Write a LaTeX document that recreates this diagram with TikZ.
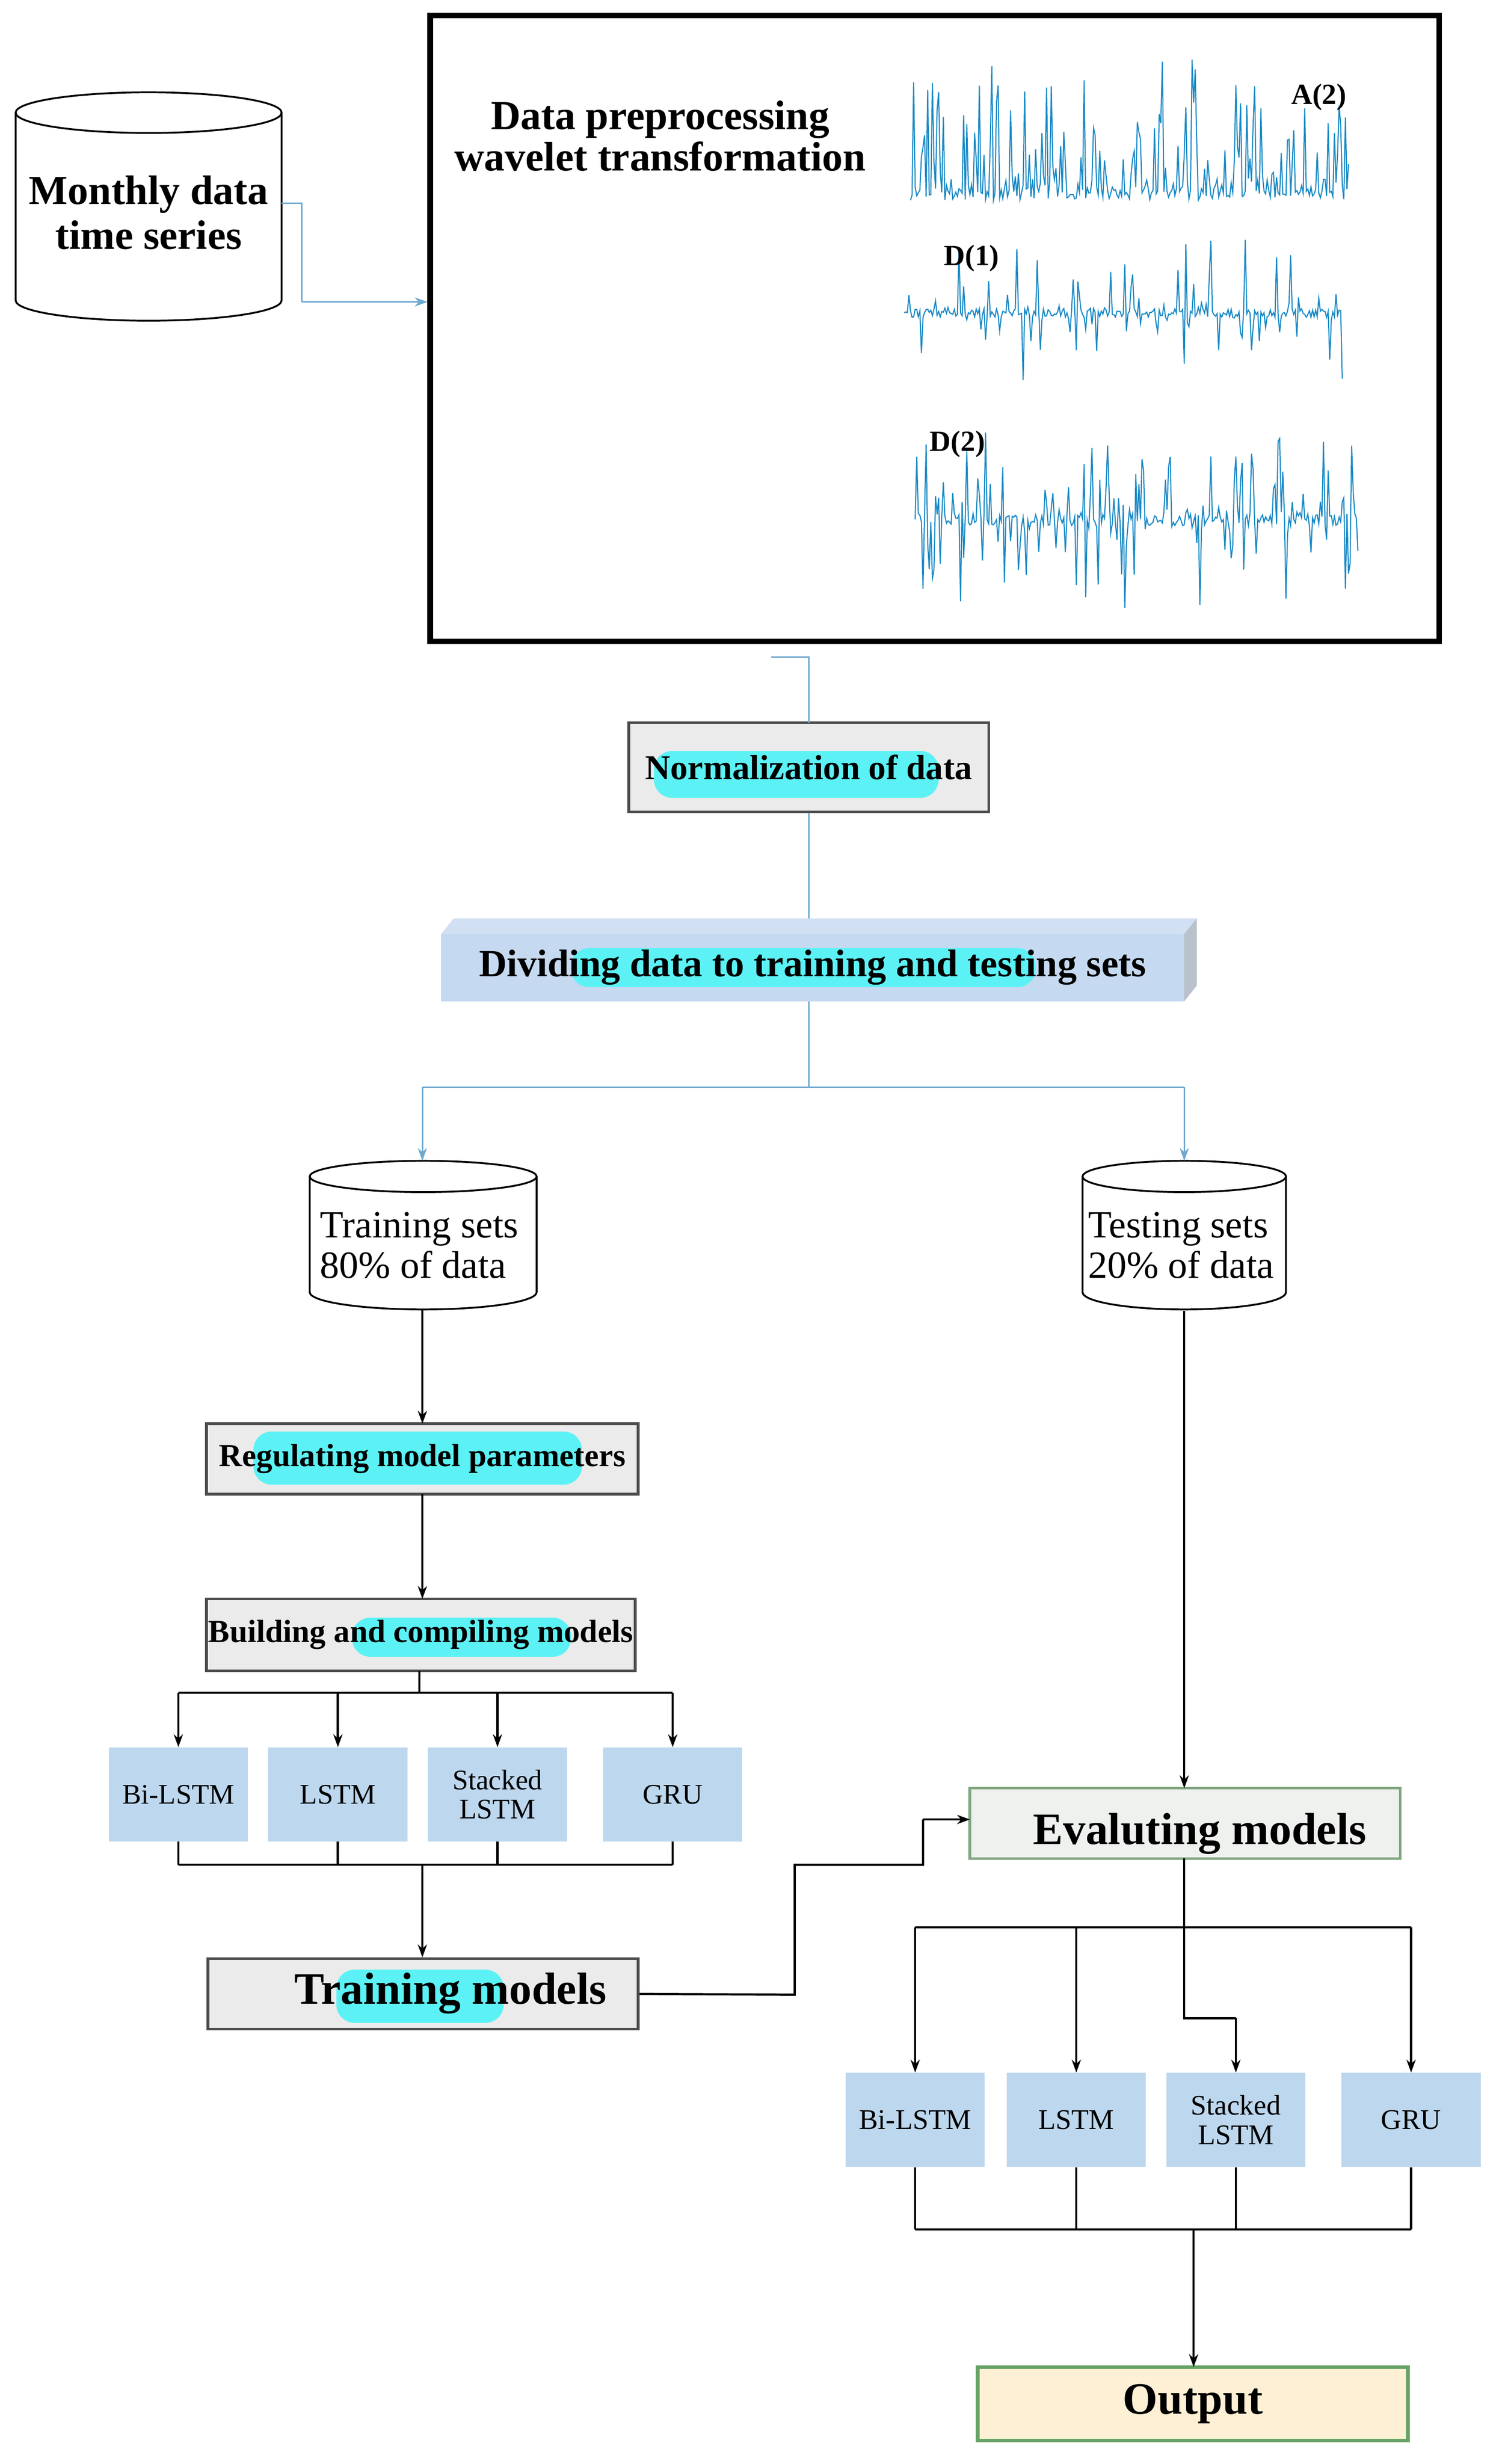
\documentclass[tikz,border=0pt]{standalone}
\usepackage{fontspec}
\setmainfont{Liberation Serif}
\usetikzlibrary{fit,arrows.meta}
\definecolor{sigc}{HTML}{1A8AC6}
\definecolor{boxb}{HTML}{BDD7EE}
\definecolor{divb}{HTML}{C5D9F0}
\definecolor{hlc}{HTML}{5CF2F5}
\definecolor{lbc}{HTML}{6FA8CF}
\begin{document}
\begin{tikzpicture}[x=0.03cm,y=-0.03cm,
  ln/.style={draw=black,line width=1.2pt},
  lb/.style={draw=lbc,line width=0.8pt},
  arr/.style={-{Stealth[length=7pt,width=5pt]}},
  gbox/.style={draw=black!70,line width=1.5pt,fill=black!8,inner sep=0pt},
  sbox/.style={fill=boxb,draw=none,inner sep=0pt},
  sig/.style={draw=sigc,line width=0.6pt},
  hl/.style={fill=hlc,rounded corners=10pt},
  t/.style={font=\bfseries\fontsize{#1}{#1}\selectfont,align=center}]
\useasboundingbox (0,0) rectangle (960,1575);
\fill[white] (0,0) rectangle (960,1575);
% cylinder monthly
\draw[line width=1pt,fill=white] (10,72) -- (10,192) arc[start angle=180,end angle=0,x radius=85,y radius=13] -- (180,72);
\draw[line width=1pt] (95,72) ellipse[x radius=85,y radius=13];
\node[t=22.5pt] (monthly) at (95,136) {Monthly data\\[2pt]time series};
% big box
\node[draw=black,line width=3pt,inner sep=0pt,fit={(275,10)(920,410)}] (big) {};
\node[t=22.5pt] (pre) at (422,87) {Data preprocessing\\wavelet transformation};
\draw[lb] (180,130) -- (193,130) -- (193,193);
\draw[lb,arr] (193,193) -- (big.west|-193,193);
% signals
\pgfmathsetseed{7}
\draw[sig] (582,128) \foreach \i in {1,...,280} { -- ({582+\i},{128-8*rnd-85*pow(rnd,5)}) };
\draw[sig] (578,200) \foreach \i in {1,...,280} { -- ({578+\i},{200+3*rand+48*pow(rand,7)}) };
\draw[sig] (585,332) \foreach \i in {1,...,283} { -- ({585+\i},{332+4*rand+55*pow(rand,5)}) };
\node[t=16pt] (a2) at (843,62) {A(2)};
\node[t=16pt] (d1) at (621,165) {D(1)};
\node[t=16pt] (d2) at (612,284) {D(2)};
% normalization
\node[gbox,fit={(402,462)(632,519)}] (norm) {};
\fill[hl] (418,480) rectangle (600,510);
\node[t=19pt] (normt) at (norm.center) {Normalization of data};
\draw[lb] (493,420) -- (517,420) -- (517,462);
\draw[lb,arr] (norm.south) -- (517,597);
% dividing
\fill[divb!80!white] (282,597) -- (290,587) -- (765,587) -- (757,597) -- cycle;
\fill[divb!70!black!60] (757,597) -- (765,587) -- (765,630) -- (757,640) -- cycle;
\node[fill=divb,draw=none,inner sep=0pt,fit={(282,597)(757,640)}] (div) {};
\fill[hl] (365,606) rectangle (662,631);
\node[t=21pt] (divt) at (div.center) {Dividing data to training and testing sets};
\coordinate (j1) at (517,695);
\draw[lb] (517,640) -- (j1);
\draw[lb] (270,695) -- (757,695);
% training / testing cylinders
\draw[line width=1pt,fill=white] (198,752) -- (198,826) arc[start angle=180,end angle=0,x radius=72.5,y radius=11] -- (343,752);
\draw[line width=1pt] (270.5,752) ellipse[x radius=72.5,y radius=10];
\node[font=\fontsize{21pt}{22pt}\selectfont,align=left] (train) at (268,796) {Training sets\\80\% of data};
\draw[line width=1pt,fill=white] (692,752) -- (692,826) arc[start angle=180,end angle=0,x radius=65,y radius=11] -- (822,752);
\draw[line width=1pt] (757,752) ellipse[x radius=65,y radius=10];
\node[font=\fontsize{21pt}{22pt}\selectfont,align=left] (test) at (755,796) {Testing sets\\20\% of data};
\draw[lb,arr] (270,695) -- (270,742);
\draw[lb,arr] (757,695) -- (757,742);
% left column
\node[gbox,fit={(132,910)(408,955)}] (reg) {};
\fill[hl] (162,915) rectangle (372,949);
\node[t=17.5pt] (regt) at (reg.center) {Regulating model parameters};
\draw[ln,arr] (270,837) -- (270,910);
\node[gbox,fit={(132,1022)(406,1068)}] (build) {};
\fill[hl] (225,1034) rectangle (365,1059);
\node[t=17.5pt] (buildt) at (build.center) {Building and compiling models};
\draw[ln,arr] (270,955) -- (270,1022);
\draw[ln] (268,1068) -- (268,1082);
\draw[ln] (114,1082) -- (430,1082);
\foreach \n/\x/\lab in {lb1/114/Bi-LSTM,lb2/216/LSTM,lb3/318/{Stacked\\LSTM},lb4/430/GRU}{
  \node[sbox,minimum width=2.67cm,minimum height=1.8cm,font=\fontsize{15.5pt}{16pt}\selectfont,align=center] (\n) at (\x,1147) {\lab};
  \draw[ln,arr] (\x,1082) -- (\n.north);
  \draw[ln] (\n.south) -- (\x,1192);
}
\draw[ln] (114,1192) -- (430,1192);
\node[gbox,fit={(133,1252)(408,1297)}] (trm) {};
\fill[hl] (215,1259) rectangle (322,1293);
\node[t=24.5pt] (trmt) at (288,1274) {Training models};
\draw[ln,arr] (270,1192) -- (trm.north-|270,0);
% right column
\node[draw=green!30!black!50,line width=1.5pt,fill=green!6!gray!12,inner sep=0pt,fit={(620,1143)(895,1188)}] (eval) {};
\node[t=24.5pt] (evalt) at (767,1172) {Evaluting models};
\draw[ln,arr] (757,838) -- (757,1143);
\draw[ln] (trm.east) -- (508,1275) -- (508,1192) -- (590,1192) -- (590,1163);
\draw[ln,arr] (590,1163) -- (620,1163);
\draw[ln] (757,1188) -- (757,1232);
\draw[ln] (585,1232) -- (902,1232);
\foreach \n/\x/\lab in {rb1/585/Bi-LSTM,rb2/688/LSTM,rb3/790/{Stacked\\LSTM},rb4/902/GRU}{
  \node[sbox,minimum width=2.67cm,minimum height=1.8cm,font=\fontsize{15.5pt}{16pt}\selectfont,align=center] (\n) at (\x,1355) {\lab};
  \draw[ln] (\n.south) -- (\x,1425);
}
\draw[ln,arr] (585,1232) -- (rb1.north);
\draw[ln,arr] (688,1232) -- (rb2.north);
\draw[ln] (757,1232) -- (757,1290) -- (790,1290);
\draw[ln,arr] (790,1290) -- (rb3.north);
\draw[ln,arr] (902,1232) -- (rb4.north);
\draw[ln] (585,1425) -- (902,1425);
\node[draw=green!40!black!60,line width=2pt,fill=yellow!30!orange!15!white,inner sep=0pt,fit={(625,1513)(900,1560)}] (out) {};
\node[t=24.5pt] (outt) at (out.center) {Output};
\draw[ln,arr] (763,1425) -- (763,1513);
\end{tikzpicture}
\end{document}
